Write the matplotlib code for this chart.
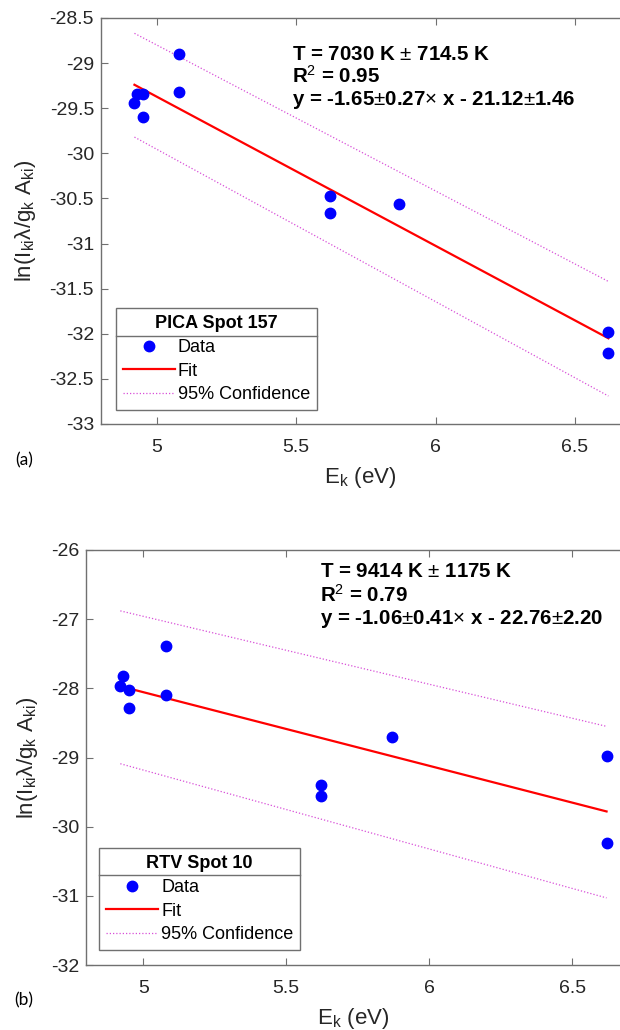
import matplotlib
matplotlib.use('Agg')
import matplotlib.pyplot as plt
from matplotlib.lines import Line2D
from matplotlib.ticker import FormatStrFormatter

plt.rcParams['font.family'] = ['Liberation Sans', 'DejaVu Sans']
plt.rcParams['mathtext.fontset'] = 'custom'
plt.rcParams['mathtext.rm'] = 'Liberation Sans'
plt.rcParams['mathtext.it'] = 'Liberation Sans:italic'
plt.rcParams['mathtext.bf'] = 'Liberation Sans:bold'
plt.rcParams['axes.unicode_minus'] = False

# Data
E_k = [4.92, 4.93, 4.95, 4.95, 5.08, 5.08, 5.62, 5.62, 5.87, 6.62, 6.62]
y_pica = [-29.44, -29.34, -29.34, -29.60, -28.90, -29.32, -30.47, -30.66, -30.56, -31.98, -32.21]
y_rtv = [-27.96, -27.82, -28.03, -28.28, -27.39, -28.10, -29.40, -29.56, -28.71, -28.98, -30.24]

fit_x = [4.92, 6.62]
fit_pica = [-29.24, -32.05]
conf_hi_pica = [-28.67, -31.42]
conf_lo_pica = [-29.82, -32.69]
fit_rtv = [-27.97, -29.78]
conf_hi_rtv = [-26.88, -28.55]
conf_lo_rtv = [-29.09, -31.03]

ann_pica = ['T = 7030 K $\\pm$ 714.5 K', 'R$^2$ = 0.95',
            'y = -1.65$\\pm$0.27$\\times$ x - 21.12$\\pm$1.46']
ann_rtv = ['T = 9414 K $\\pm$ 1175 K', 'R$^2$ = 0.79',
           'y = -1.06$\\pm$0.41$\\times$ x - 22.76$\\pm$2.20']

yticks_pica = [-33, -32.5, -32, -31.5, -31, -30.5, -30, -29.5, -29, -28.5]
yticks_rtv = [-32, -31, -30, -29, -28, -27, -26]
xticks = [5, 5.5, 6, 6.5]

edge = '#707070'


def panel(ax, y, fit, hi, lo, ann, ann_pos, title, yticks, ylim, xlim, leg_anchor, ylab_x):
    ax.plot(E_k, y, 'o', color='#0000ff', markersize=7.5, label='Data', zorder=3)
    ax.plot(fit_x, fit, '-', color='#ff0000', lw=1.6, label='Fit')
    ax.plot(fit_x, hi, color='#d84fd8', lw=0.9, ls=(0, (1, 1.6)), label='95% Confidence')
    ax.plot(fit_x, lo, color='#d84fd8', lw=0.9, ls=(0, (1, 1.6)))
    ax.set_xlim(xlim)
    ax.set_ylim(ylim)
    ax.set_xticks(xticks)
    ax.set_yticks(yticks)
    ax.yaxis.set_major_formatter(FormatStrFormatter('%g'))
    ax.xaxis.set_major_formatter(FormatStrFormatter('%g'))
    ax.tick_params(direction='in', length=5, width=0.8, colors=edge, labelcolor='#262626',
                   labelsize=14, top=True, right=False)
    ax.tick_params(axis='x', pad=11)
    ax.tick_params(axis='y', pad=5)
    for s in ['left', 'bottom', 'top']:
        ax.spines[s].set_color(edge)
        ax.spines[s].set_linewidth(1.0)
    ax.spines['right'].set_visible(False)
    ax.set_xlabel('E$_{\\rm k}$ (eV)', fontsize=16, color='#262626', labelpad=6)
    ax.set_ylabel('ln(I$_{\\rm ki}$λ/g$_{\\rm k}$ A$_{\\rm ki}$)', fontsize=16, color='#262626')
    ax.yaxis.set_label_coords(ylab_x, 0.5)
    for txt, (tx, ty) in zip(ann, ann_pos):
        ax.text(tx, ty, txt, transform=ax.transAxes, fontsize=14.8, fontweight='bold',
                va='center', ha='left', color='black')
    leg = ax.legend(title=title, loc='lower left', bbox_to_anchor=leg_anchor, borderaxespad=0,
                    fontsize=13, title_fontproperties={'weight': 'bold', 'size': 13},
                    numpoints=1, handlelength=2.9, handletextpad=0.15, labelspacing=0.37,
                    borderpad=0.38, fancybox=False, edgecolor=edge, framealpha=1)
    leg.get_frame().set_linewidth(1.0)
    return leg


fig = plt.figure(figsize=(6.2, 10.3), dpi=100)
ax1 = fig.add_axes([101/620, 1 - 424/1030, 519/620, 406/1030])
ax2 = fig.add_axes([86/620, 1 - 965/1030, 534/620, 415/1030])

leg1 = panel(ax1, y_pica, fit_pica, conf_hi_pica, conf_lo_pica, ann_pica,
             [(0.368, 0.911), (0.368, 0.857), (0.368, 0.798)], 'PICA Spot 157',
             yticks_pica, (-33, -28.5), (4.8, 6.6616), (0.029, 0.034), -0.122)
leg2 = panel(ax2, y_rtv, fit_rtv, conf_hi_rtv, conf_lo_rtv, ann_rtv,
             [(0.438, 0.949), (0.438, 0.892), (0.438, 0.834)], 'RTV Spot 10',
             yticks_rtv, (-32, -26), (4.8, 6.667), (0.0245, 0.036), -0.086)

fig.text(24.6/620, 1 - 460/1030, '(a)', fontsize=12.5, family='Lato', ha='center', va='center')
fig.text(24/620, 1 - 1000/1030, '(b)', fontsize=12.5, family='Lato', ha='center', va='center')

# divider line under legend titles (MATLAB style)
fig.canvas.draw()
r = fig.canvas.get_renderer()
for leg in [leg1, leg2]:
    lb = leg.get_window_extent(r)
    tb = leg.get_title().get_window_extent(r)
    eb = leg.get_texts()[0].get_window_extent(r)
    yl = (tb.y0 + eb.y1) / 2
    fig.add_artist(Line2D([lb.x0 / fig.bbox.width, lb.x1 / fig.bbox.width],
                          [yl / fig.bbox.height, yl / fig.bbox.height],
                          transform=fig.transFigure, color=edge, lw=1.0))

fig.savefig('out.png', dpi=100)
